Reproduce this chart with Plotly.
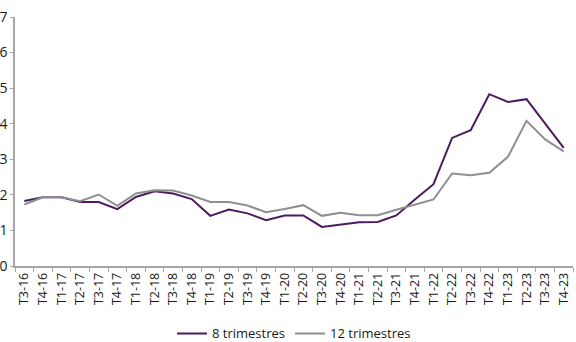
import plotly.graph_objects as go

categories = ["T3-16", "T4-16",
              "T1-17", "T2-17", "T3-17", "T4-17",
              "T1-18", "T2-18", "T3-18", "T4-18",
              "T1-19", "T2-19", "T3-19", "T4-19",
              "T1-20", "T2-20", "T3-20", "T4-20",
              "T1-21", "T2-21", "T3-21", "T4-21",
              "T1-22", "T2-22", "T3-22", "T4-22",
              "T1-23", "T2-23", "T3-23", "T4-23"]

huit_trimestres = [1.83, 1.93, 1.93, 1.80, 1.80, 1.60, 1.94, 2.10, 2.04, 1.88,
                   1.41, 1.59, 1.48, 1.29, 1.42, 1.42, 1.10, 1.17, 1.23, 1.24,
                   1.42, 1.87, 2.30, 3.60, 3.82, 4.83, 4.61, 4.69, 4.00, 3.32]

douze_trimestres = [1.73, 1.93, 1.93, 1.82, 2.01, 1.69, 2.04, 2.13, 2.12, 1.98,
                    1.80, 1.80, 1.70, 1.51, 1.60, 1.71, 1.41, 1.50, 1.43, 1.43,
                    1.58, 1.73, 1.87, 2.60, 2.55, 2.62, 3.07, 4.08, 3.56, 3.22]

y_ticks = [0, 1, 2, 3, 4, 5, 6, 7]

fig = go.Figure()
fig.add_trace(go.Scatter(x=categories, y=huit_trimestres, mode="lines",
                         name="8 trimestres",
                         line=dict(color="#4d1a5e", width=2)))
fig.add_trace(go.Scatter(x=categories, y=douze_trimestres, mode="lines",
                         name="12 trimestres",
                         line=dict(color="#8f8f8f", width=2)))

fig.update_layout(
    width=576, height=342,
    margin=dict(l=15, r=3, t=17, b=76),
    paper_bgcolor="white", plot_bgcolor="white",
    font=dict(family="Open Sans", color="#1a1a1a"),
    showlegend=True,
    legend=dict(orientation="h", x=0.5, xanchor="center",
                yref="container", y=0.025, yanchor="middle",
                font=dict(size=13), itemwidth=30, traceorder="normal"),
    xaxis=dict(type="category", range=[-0.5, len(categories) - 0.5],
               tickson="boundaries", ticks="outside", ticklen=4,
               tickcolor="#a6a6a6", showline=True, linecolor="#a6a6a6",
               linewidth=1.5, showgrid=False, tickangle=-90,
               tickfont=dict(size=12.5, color="#1a1a1a"), zeroline=False,
               automargin=False),
    yaxis=dict(range=[0, 7], tickvals=y_ticks, ticks="outside", ticklen=3,
               tickcolor="#a6a6a6", showline=True, linecolor="#a6a6a6",
               linewidth=1.5, showgrid=False, zeroline=False,
               tickfont=dict(size=14, color="#1a1a1a"), automargin=False),
)

fig.write_html("out.html",
               config={"displayModeBar": False},
               post_script="document.body.style.margin='0';"
                           "document.body.style.padding='0';"
                           "document.documentElement.style.overflow='hidden';")
